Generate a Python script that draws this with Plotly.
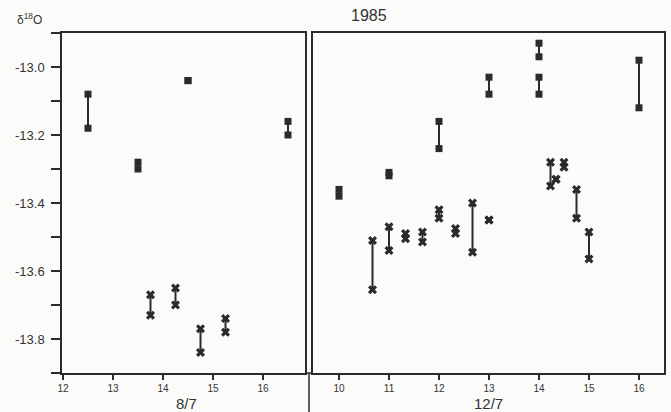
import plotly.graph_objects as go

# ---- data: 8/7 panel ----
sq_x_a = [12.5, 13.5, 14.5, 16.5]
sq_hi_a = [-13.08, -13.28, -13.04, -13.16]
sq_lo_a = [-13.18, -13.30, -13.04, -13.20]
cr_x_a = [13.75, 14.25, 14.75, 15.25]
cr_hi_a = [-13.67, -13.65, -13.77, -13.74]
cr_lo_a = [-13.73, -13.70, -13.84, -13.78]

# ---- data: 12/7 panel ----
sq_x_b = [10, 11, 12, 13, 14, 14, 16]
sq_hi_b = [-13.36, -13.31, -13.16, -13.03, -12.93, -13.03, -12.98]
sq_lo_b = [-13.38, -13.32, -13.24, -13.08, -12.97, -13.08, -13.12]
cr_x_b = [10.67, 11, 11.33, 11.67, 12, 12.33, 12.67, 13, 14.23, 14.34, 14.5, 14.75, 15]
cr_hi_b = [-13.51, -13.47, -13.49, -13.485, -13.42, -13.475, -13.40, -13.45, -13.28, -13.33, -13.28, -13.36, -13.485]
cr_lo_b = [-13.655, -13.54, -13.505, -13.515, -13.445, -13.49, -13.545, -13.45, -13.35, -13.33, -13.295, -13.445, -13.565]

x_ticks_a = [12, 13, 14, 15, 16]
x_ticks_b = [10, 11, 12, 13, 14, 15, 16]
y_ticks = [-13.8, -13.6, -13.4, -13.2, -13.0]
y_tick_text = ["-13.8", "-13.6", "-13.4", "-13.2", "-13.0"]
day_labels = ["8/7", "12/7"]
title = "1985"

INK = "#2b2b2b"
TXT = "#333333"
BG = "#fbfbf9"
W, H = 671, 412


def px_x(p):
    return p / W


def px_y(p):
    return 1 - p / H


def pair_lines(xs, his, los):
    lx, ly = [], []
    for x, a, b in zip(xs, his, los):
        lx += [x, x, None]
        ly += [a, b, None]
    return lx, ly


fig = go.Figure()
for xs_sq, hi_sq, lo_sq, xs_cr, hi_cr, lo_cr, xa, ya in [
    (sq_x_a, sq_hi_a, sq_lo_a, cr_x_a, cr_hi_a, cr_lo_a, "x", "y"),
    (sq_x_b, sq_hi_b, sq_lo_b, cr_x_b, cr_hi_b, cr_lo_b, "x2", "y2"),
]:
    lx, ly = pair_lines(xs_sq + xs_cr, hi_sq + hi_cr, lo_sq + lo_cr)
    fig.add_trace(go.Scatter(x=lx, y=ly, mode="lines", line=dict(color=INK, width=2),
                             xaxis=xa, yaxis=ya, hoverinfo="skip", showlegend=False))
    fig.add_trace(go.Scatter(x=xs_sq + xs_sq, y=hi_sq + lo_sq, mode="markers",
                             marker=dict(symbol="square", size=7, color=INK),
                             xaxis=xa, yaxis=ya, showlegend=False))
    fig.add_trace(go.Scatter(x=xs_cr + xs_cr, y=hi_cr + lo_cr, mode="markers",
                             marker=dict(symbol="x", size=8, color=INK),
                             xaxis=xa, yaxis=ya, showlegend=False))

font = "Liberation Sans"
common_x = dict(showline=True, linecolor=INK, linewidth=1.5, mirror=True, ticks="outside",
                ticklen=5, tickwidth=1.5, tickcolor=INK, showgrid=False, zeroline=False,
                automargin=False,
                tickfont=dict(size=10, color=TXT, family=font))

y_lo, y_hi = -13.9, -12.9
fig.update_layout(
    width=W, height=H,
    margin=dict(l=0, r=0, t=0, b=0),
    paper_bgcolor=BG, plot_bgcolor=BG,
    xaxis=dict(domain=[px_x(62), px_x(305)], range=[11.98, 16.84], tickvals=x_ticks_a,
               anchor="y", **common_x),
    xaxis2=dict(domain=[px_x(313), px_x(664)], range=[9.48, 16.5], tickvals=x_ticks_b,
                anchor="y2", **common_x),
    yaxis=dict(domain=[px_y(373), px_y(33)], range=[y_lo, y_hi], anchor="x",
               tickvals=y_ticks, ticktext=y_tick_text, ticks="outside", ticklen=9, tickwidth=1.5,
               tickcolor=INK, showline=True, linecolor=INK, linewidth=1.5, mirror=True,
               showgrid=False, zeroline=False, automargin=False, ticklabelstandoff=4,
               minor=dict(tick0=-13.9, dtick=0.1, ticks="outside", ticklen=9, tickwidth=1.5,
                          tickcolor=INK, showgrid=False),
               tickfont=dict(size=13, color=TXT, family=font)),
    yaxis2=dict(domain=[px_y(373), px_y(33)], range=[y_lo, y_hi], anchor="x2",
                showticklabels=False, ticks="", showline=True, linecolor=INK, linewidth=1.5,
                mirror=True, showgrid=False, zeroline=False, automargin=False),
    annotations=[
        dict(text=title, x=px_x(369), y=px_y(16), xref="paper", yref="paper",
             xanchor="center", yanchor="middle",
             showarrow=False, font=dict(size=16, color=TXT, family=font)),
        dict(text="δ<sup>18</sup>O", x=px_x(15), y=px_y(19), xref="paper", yref="paper",
             xanchor="left", yanchor="middle",
             showarrow=False, font=dict(size=12, color=TXT, family=font)),
        dict(text=day_labels[0], x=px_x(187), y=px_y(403), xref="paper", yref="paper",
             xanchor="center", yanchor="middle",
             showarrow=False, font=dict(size=15, color=TXT, family=font)),
        dict(text=day_labels[1], x=px_x(488), y=px_y(403), xref="paper", yref="paper",
             xanchor="center", yanchor="middle",
             showarrow=False, font=dict(size=15, color=TXT, family=font)),
    ],
    shapes=[
        dict(type="line", xref="paper", yref="paper", x0=px_x(305), x1=px_x(313),
             y0=px_y(373), y1=px_y(373), line=dict(color=INK, width=1.5)),
        dict(type="line", xref="paper", yref="paper", x0=px_x(309), x1=px_x(309),
             y0=px_y(373), y1=0, line=dict(color=INK, width=1.5)),
        dict(type="line", xref="paper", yref="paper", x0=px_x(53), x1=px_x(62),
             y0=px_y(33), y1=px_y(33), line=dict(color=INK, width=1.5)),
        dict(type="line", xref="paper", yref="paper", x0=px_x(53), x1=px_x(62),
             y0=px_y(373), y1=px_y(373), line=dict(color=INK, width=1.5)),
    ],
)

fig.write_html("out.html", post_script="document.body.style.margin='0';",
               config={"displayModeBar": False})
